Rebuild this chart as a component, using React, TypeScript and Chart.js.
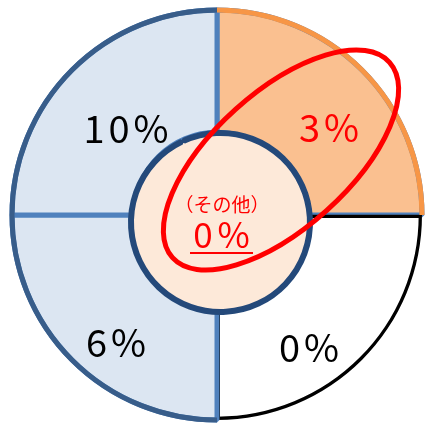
import React, { useEffect, useRef } from 'react';
import { Chart, registerables } from 'chart.js';

Chart.register(...registerables);

// Quarter segments, clockwise from 12 o'clock (each quarter covers 90°)
const segmentNames = ['右上', '右下', '左下', '左上'];
const segmentShares = [1, 1, 1, 1];
const segmentPercents = [3, 0, 6, 10];
const centerCaption = '（その他）';
const centerPercent = 0;

// styles
const segmentFills = ['#FAC090', '#FFFFFF', '#DCE6F2', '#DCE6F2'];
const segmentBorders = ['#4F81BD', '#000000', '#4F81BD', '#4F81BD'];
const segmentBorderWidths = [5, 3, 5, 5];
const segmentBorderAligns = ['center', 'inner', 'center', 'center'];
const segmentRimColors = ['#F79646', null, '#385D8A', '#385D8A'];
const segmentTextColors = ['#FF0000', '#000000', '#000000', '#000000'];
// label anchors relative to the chart centre: [dx (centre of text), dy (baseline)]
const segmentLabelOffsets = [
  [112, -73],
  [92, 147],
  [-101, 142],
  [-91, -72],
];

const FONT = '"Noto Sans CJK JP", "Noto Sans CJK SC", sans-serif';

function drawSpacedText(ctx: CanvasRenderingContext2D, text: string, cx: number, y: number, spacing: number) {
  (ctx as any).letterSpacing = spacing + 'px';
  ctx.textAlign = 'left';
  const w = ctx.measureText(text).width - spacing;
  ctx.fillText(text, cx - w / 2, y);
  (ctx as any).letterSpacing = '0px';
  return w;
}

const overlayPlugin = {
  id: 'overlay',
  afterDatasetsDraw(chart: any) {
    const ctx: CanvasRenderingContext2D = chart.ctx;
    const meta = chart.getDatasetMeta(0);
    ctx.save();
    segmentRimColors.forEach((color, i) => {
      if (!color) return;
      const arc = meta.data[i];
      const p = arc.getProps(['x', 'y', 'startAngle', 'endAngle', 'outerRadius'], true);
      ctx.beginPath();
      ctx.arc(p.x, p.y, p.outerRadius, p.startAngle, p.endAngle);
      ctx.strokeStyle = color;
      ctx.lineWidth = 5;
      ctx.stroke();
    });
    ctx.restore();
  },
  afterDraw(chart: any) {
    const ctx: CanvasRenderingContext2D = chart.ctx;
    const meta = chart.getDatasetMeta(0);
    const cx = meta.data[0].x;
    const cy = meta.data[0].y;
    ctx.save();
    ctx.textBaseline = 'alphabetic';
    // quarter labels
    segmentPercents.forEach((v, i) => {
      ctx.font = `38px ${FONT}`;
      ctx.fillStyle = segmentTextColors[i];
      const [dx, dy] = segmentLabelOffsets[i];
      drawSpacedText(ctx, `${v}%`, cx + dx, cy + dy, 4);
    });
    // centre caption + value
    ctx.fillStyle = '#FF0000';
    ctx.font = `19px ${FONT}`;
    ctx.textBaseline = 'middle';
    drawSpacedText(ctx, centerCaption, cx + 5, cy - 10, 0);
    ctx.textBaseline = 'alphabetic';
    ctx.font = `35px ${FONT}`;
    drawSpacedText(ctx, `${centerPercent}%`, cx + 4.5, cy + 33, 5);
    ctx.fillRect(cx - 27, cy + 37, 63, 2);
    // red highlight ellipse
    ctx.beginPath();
    ctx.ellipse(cx + 64, cy - 55, 146, 68, (-42 * Math.PI) / 180, 0, Math.PI * 2);
    ctx.strokeStyle = '#FF0000';
    ctx.lineWidth = 5;
    ctx.stroke();
    ctx.restore();
  },
};

export default function App() {
  const canvasRef = useRef<HTMLCanvasElement | null>(null);

  useEffect(() => {
    let chart: Chart | null = null;
    let cancelled = false;
    const build = () => {
      if (cancelled || !canvasRef.current) return;
      chart = new Chart(canvasRef.current, {
        type: 'doughnut',
        data: {
          labels: segmentNames,
          datasets: [
            {
              data: segmentShares,
              backgroundColor: segmentFills,
              borderColor: segmentBorders,
              borderWidth: segmentBorderWidths,
              borderAlign: (c: any) => segmentBorderAligns[c.dataIndex],
              weight: 122.25,
              order: 2,
            } as any,
            {
              data: [1],
              backgroundColor: '#24497A',
              borderColor: '#24497A',
              borderWidth: 3,
              weight: 3,
              order: 0,
              rotation: -25,
              offset: 33,
            } as any,
            {
              data: [1],
              backgroundColor: '#FDE9D9',
              borderColor: '#FDE9D9',
              borderWidth: 4,
              weight: 79.75,
              order: 1,
              rotation: -25,
              offset: 33,
            } as any,
          ],
        },
        options: {
          responsive: false,
          animation: false,
          cutout: 0,
          radius: 205,
          events: [],
          layout: { padding: { left: 9, right: 0, top: 1, bottom: 0 } },
          plugins: {
            legend: { display: false },
            tooltip: { enabled: false },
          },
        } as any,
        plugins: [overlayPlugin],
      });
    };
    Promise.all([
      document.fonts.load(`38px "Noto Sans CJK JP"`, '0123456789%'),
      document.fonts.load(`19px "Noto Sans CJK JP"`, 'その他（）'),
    ])
      .catch(() => null)
      .then(build);
    return () => {
      cancelled = true;
      if (chart) chart.destroy();
    };
  }, []);

  return (
    <div style={{ position: 'fixed', left: 0, top: 0, width: 425, height: 429, background: '#fff' }}>
      <canvas ref={canvasRef} width={425} height={429} style={{ display: 'block' }} />
    </div>
  );
}
